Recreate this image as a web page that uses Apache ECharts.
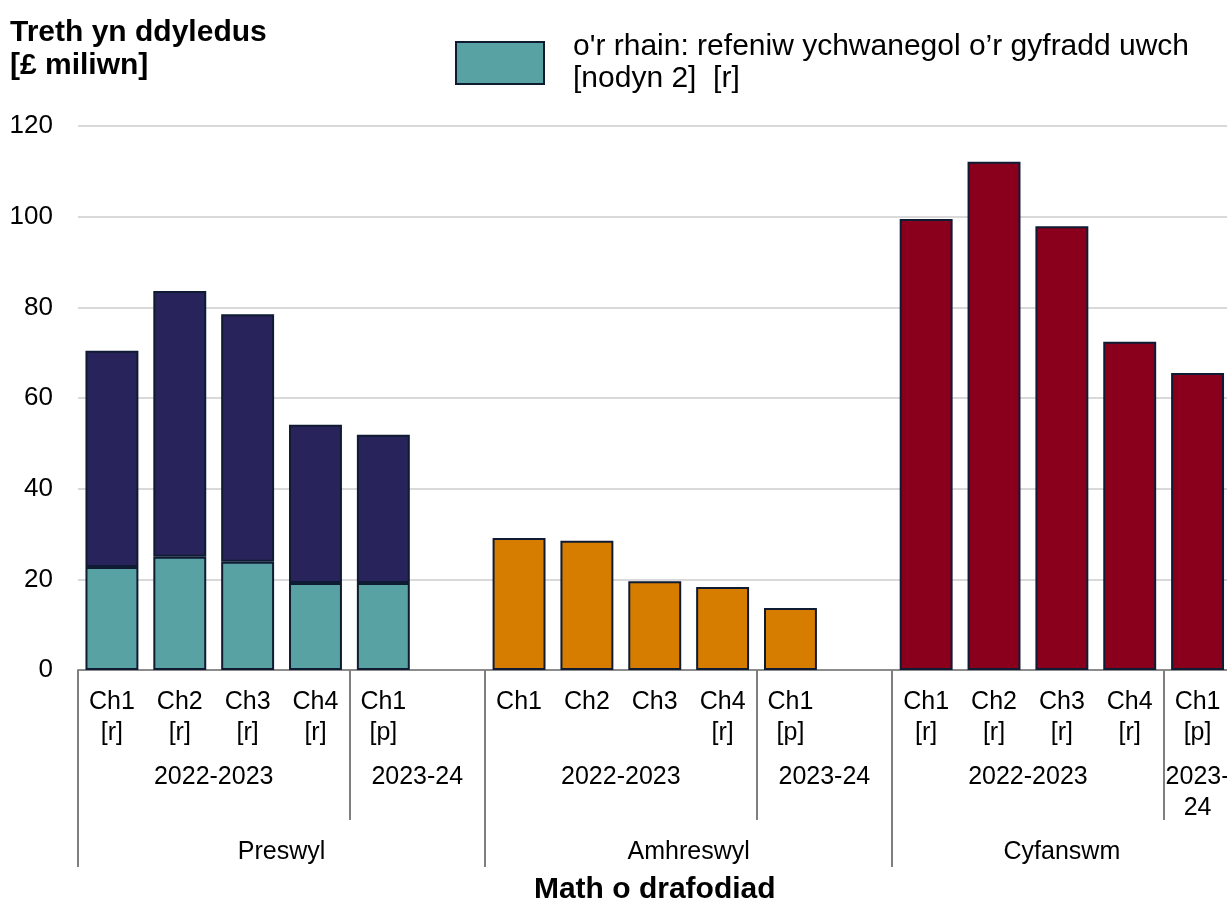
<!DOCTYPE html>
<html>
<head>
<meta charset="utf-8">
<script src="https://cdn.jsdelivr.net/npm/echarts@6/dist/echarts.min.js"></script>
<style>
  html, body { margin: 0; padding: 0; background: #fff; }
  #chart { width: 1227px; height: 901px; }
</style>
</head>
<body>
<div id="chart"></div>
<script>
// categories (empty strings are the gaps between groups)
const categories = [
  'Ch1\n[r]', 'Ch2\n[r]', 'Ch3\n[r]', 'Ch4\n[r]', 'Ch1\n[p]', '',
  'Ch1', 'Ch2', 'Ch3', 'Ch4\n[r]', 'Ch1\n[p]', '',
  'Ch1\n[r]', 'Ch2\n[r]', 'Ch3\n[r]', 'Ch4\n[r]', 'Ch1\n[p]'
]
// second level: year labels, positioned at slot centres
const yearLabelPos = [2, 5, 8, 11, 14, 16.5]
const yearLabels = ['2022-2023', '2023-24', '2022-2023', '2023-24', '2022-2023', '2023-\n24']
const yearTicks = [4, 10, 16]
// third level: transaction type
const groupLabelPos = [3, 9, 14.5]
const groupLabels = ['Preswyl', 'Amhreswyl', 'Cyfanswm']
const groupTicks = [0, 6, 12, 17]

const legendName = "o'r rhain: refeniw ychwanegol o’r gyfradd uwch\n[nodyn 2]  [r]"

// £ million
const preswylHigherRate = [22.7, 25.0, 23.9, 19.2, 19.2, '-', '-', '-', '-', '-', '-', '-', '-', '-', '-', '-', '-']
const preswylRest = [47.7, 58.6, 54.6, 34.9, 32.7, '-', '-', '-', '-', '-', '-', '-', '-', '-', '-', '-', '-']
const amhreswyl = ['-', '-', '-', '-', '-', '-', 29.1, 28.5, 19.6, 18.3, 13.7, '-', '-', '-', '-', '-', '-']
const cyfanswm = ['-', '-', '-', '-', '-', '-', '-', '-', '-', '-', '-', '-', 99.5, 112.1, 97.9, 72.4, 65.5]

const font = 'Liberation Sans, Arial, sans-serif'
const border = '#0f1b33'

const chart = echarts.init(document.getElementById('chart'))

function bar(name, data, color) {
  return {
    name: name,
    type: 'bar',
    stack: 'total',
    barCategoryGap: '22%',
    data: data,
    itemStyle: { color: color, borderColor: border, borderWidth: 2 },
    animation: false
  }
}

chart.setOption({
  textStyle: { fontFamily: font },
  title: {
    text: 'Treth yn ddyledus\n[£ miliwn]',
    left: 5,
    top: 11,
    textStyle: { fontSize: 30, fontWeight: 'bold', color: '#000', lineHeight: 33, fontFamily: font }
  },
  legend: {
    data: [legendName],
    left: 450,
    top: 26,
    icon: 'rect',
    itemWidth: 88,
    itemHeight: 42,
    textStyle: { fontSize: 30, color: '#000', lineHeight: 32, padding: [0, 0, 0, 24], fontFamily: font }
  },
  grid: { left: 78, top: 126, width: 1153.5, bottom: 231, outerBoundsMode: 'none' },
  xAxis: [
    {
      type: 'category',
      data: categories,
      axisLine: { lineStyle: { color: '#8c8c8c', width: 2 } },
      axisTick: { show: false },
      axisLabel: { interval: 0, color: '#000', fontSize: 25, lineHeight: 31, margin: 17, fontFamily: font }
    },
    {
      type: 'value',
      min: 0,
      max: 17,
      position: 'bottom',
      axisLine: { show: false },
      splitLine: { show: false },
      axisTick: { show: true, customValues: yearTicks, length: 150, lineStyle: { color: '#7f7f7f', width: 2 } },
      axisLabel: {
        customValues: yearLabelPos,
        formatter: function (v) { return yearLabels[yearLabelPos.indexOf(v)] },
        color: '#000', fontSize: 25, lineHeight: 31, margin: 92, fontFamily: font
      }
    },
    {
      type: 'value',
      min: 0,
      max: 17,
      position: 'bottom',
      name: 'Math o drafodiad',
      nameLocation: 'middle',
      nameGap: 205,
      nameTextStyle: { fontSize: 30, fontWeight: 'bold', color: '#000', fontFamily: font },
      axisLine: { show: false },
      splitLine: { show: false },
      axisTick: { show: true, customValues: groupTicks, length: 197, lineStyle: { color: '#7f7f7f', width: 2 } },
      axisLabel: {
        customValues: groupLabelPos,
        formatter: function (v) { return groupLabels[groupLabelPos.indexOf(v)] },
        color: '#000', fontSize: 25, lineHeight: 25, margin: 170, fontFamily: font
      }
    }
  ],
  yAxis: {
    type: 'value',
    min: 0,
    max: 120,
    interval: 20,
    axisLine: { show: false },
    axisTick: { show: false },
    splitLine: { lineStyle: { color: '#d9d9d9', width: 2 } },
    axisLabel: { color: '#000', fontSize: 26, margin: 25, fontFamily: font }
  },
  series: [
    bar(legendName, preswylHigherRate, '#58a2a4'),
    bar('Preswyl', preswylRest, '#28235a'),
    bar('Amhreswyl', amhreswyl, '#d67d00'),
    bar('Cyfanswm', cyfanswm, '#8a001c')
  ]
})
</script>
</body>
</html>
